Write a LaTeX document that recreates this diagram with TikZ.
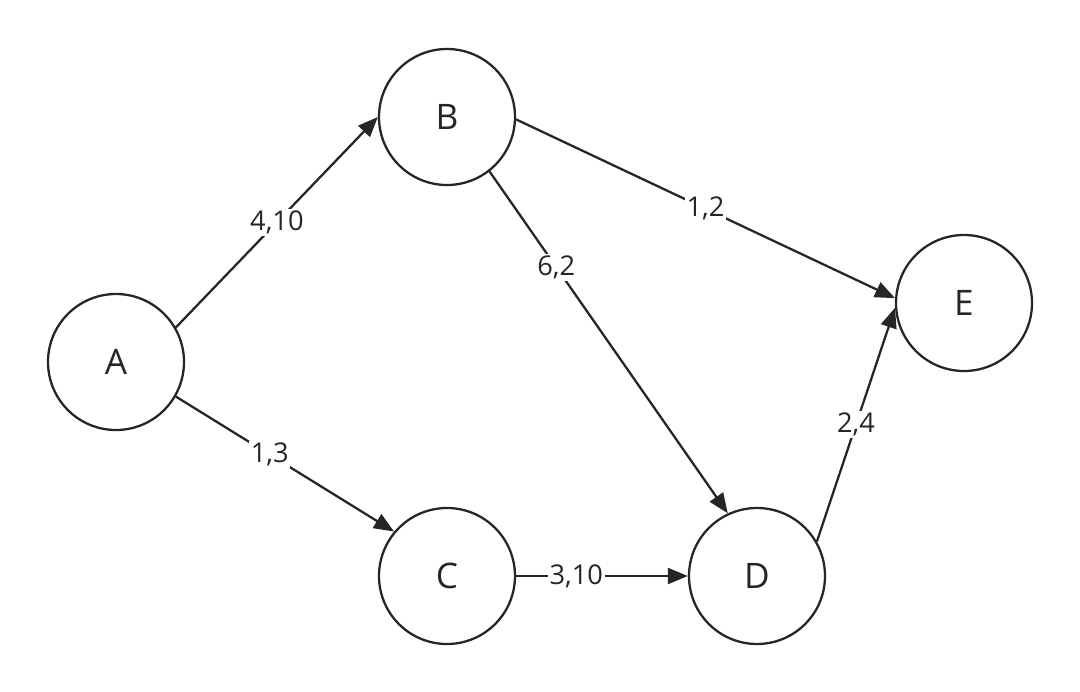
\documentclass[tikz,border=0pt]{standalone}
\usepackage{fontspec}
\setmainfont{Open Sans}
\usetikzlibrary{arrows.meta}

\begin{document}
\begin{tikzpicture}[
		vertex/.style = {circle, draw = black!85, line width = 1.3pt, minimum size = 2.72cm, inner sep = 0pt, text = black!85, font = \fontsize{20}{20}\selectfont},
		edge/.style = {draw = black!85, line width = 1.3pt, -{Triangle[length = 0.4cm, width = 0.32cm]}},
		weight/.style = {fill = white, inner sep = 1pt, text = black!85, font = \fontsize{15.5}{15.5}\selectfont}
	]
	\useasboundingbox (0,0) rectangle (21.6,-13.82);
	%\draw [help lines] (0,0) grid (21.6,-13.82);
	\node [vertex] (A) at (2.32,-7.24) {A};
	\node [vertex] (B) at (8.94,-2.34) {B};
	\node [vertex] (C) at (8.94,-11.52) {C};
	\node [vertex] (D) at (15.14,-11.52) {D};
	\node [vertex] (E) at (19.28,-6.06) {E};
	\draw [edge] (A.30) -- (B.west) node [weight, pos = 0.5] {4,10};
	\draw [edge] (A.-30) -- (C.140) node [weight, pos = 0.43] {1,3};
	\draw [edge] (B.-2) -- (E.176) node [weight, pos = 0.5] {1,2};
	\draw [edge] (B.-52) -- (D.115) node [weight, pos = 0.28] {6,2};
	\draw [edge] (C.east) -- (D.west) node [weight, pos = 0.35] {3,10};
	\draw [edge] (D.30) -- (E.184) node [weight, pos = 0.5] {2,4};
\end{tikzpicture}
\end{document}
